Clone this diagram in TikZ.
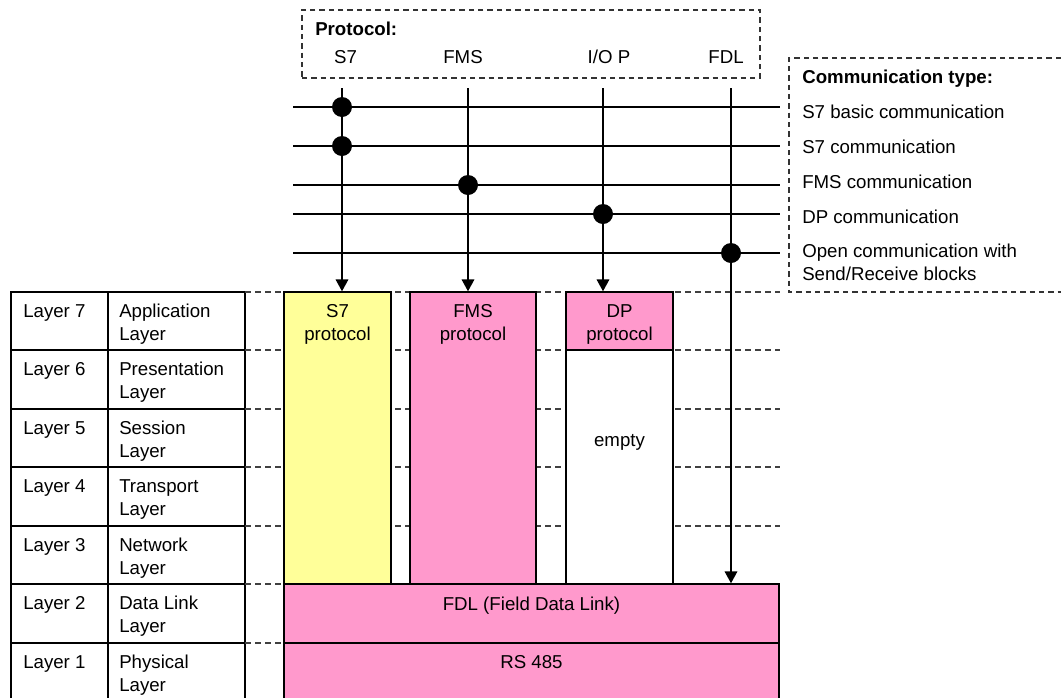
\documentclass[tikz,border=0pt]{standalone}
\usepackage{fontspec}
\setmainfont{Liberation Sans}
\usetikzlibrary{arrows.meta,fit}
\definecolor{pinkbox}{HTML}{FF99CC}
\definecolor{yellowbox}{HTML}{FFFF99}
\begin{document}
\begin{tikzpicture}[x=0.75pt,y=-0.75pt,
  txt/.style={font=\fontsize{14}{17.25}\selectfont, inner sep=0pt},
  bold/.style={font=\fontsize{14}{17.25}\selectfont\bfseries, inner sep=0pt},
  cell/.style={draw=black, line width=0.8pt, inner sep=0pt},
  pbox/.style={cell, fill=pinkbox},
  ybox/.style={cell, fill=yellowbox},
  wbox/.style={cell, fill=white},
  frame/.style={draw=black!80, line width=0.9pt, dash pattern=on 4pt off 3pt},
  sep/.style={draw=black!75, line width=0.8pt, dash pattern=on 4.5pt off 3pt},
  bus/.style={draw=black, line width=1pt},
  feed/.style={draw=black, line width=2.2pt},
  arr/.style={feed, -{Triangle[length=9pt,width=9pt]}},
  dot/.style={circle, fill=black, inner sep=0pt, minimum size=15pt}]
\useasboundingbox (0,0) rectangle (1061,697);

% ---- protocol frame
\node[frame, fit={(302,10)(760,78)}, inner sep=0pt] (protframe) {};
\node[bold, anchor=base west] (prottitle) at (315,35) {Protocol:};
\node[txt, anchor=base] (pS7) at (345.5,63) {S7};
\node[txt, anchor=base] (pFMS) at (463,63) {FMS};
\node[txt, anchor=base] (pIO) at (609,63) {I/O P};
\node[txt, anchor=base] (pFDL) at (726,63) {FDL};

% ---- communication type frame
\draw[frame] (1061,58) -- (789,58) -- (789,292) -- (1061,292);
\node[bold, anchor=base west] (ctitle) at (802,83) {Communication type:};
\node[txt, anchor=base west] (c1) at (802,118) {S7 basic communication};
\node[txt, anchor=base west] (c2) at (802,153) {S7 communication};
\node[txt, anchor=base west] (c3) at (802,188) {FMS communication};
\node[txt, anchor=base west] (c4) at (802,223) {DP communication};
\node[txt, anchor=base west] (c5a) at (802,257) {Open communication with};
\node[txt, anchor=base west] (c5b) at (802,280) {Send/Receive blocks};

% ---- layer table
\foreach \top/\bot/\num/\a/\b in {292/350/7/Application/Layer,
    350/409/6/Presentation/Layer, 409/467/5/Session/Layer,
    467/526/4/Transport/Layer, 526/584/3/Network/Layer,
    584/643/2/Data Link/Layer, 643/702/1/Physical/Layer}{
  \node[cell, fit={(11,\top)(108,\bot)}] (num\num) {};
  \node[cell, fit={(108,\top)(245,\bot)}] (name\num) {};
  \node[txt, anchor=base west] (numt\num) at (23,\top+25) {Layer \num};
  \node[txt, anchor=base west] (namea\num) at (119,\top+25) {\a};
  \node[txt, anchor=base west] (nameb\num) at (119,\top+48) {\b};
}

% ---- dashed layer separators
\foreach \y in {292,350,409,467,526,584,643}
  \draw[sep] (245,\y) -- (780,\y);

% ---- protocol boxes
\node[ybox, fit={(284,292)(391,584)}] (s7box) {};
\node[pbox, fit={(410,292)(536,584)}] (fmsbox) {};
\node[pbox, fit={(566,292)(673,350)}] (dpbox) {};
\node[wbox, fit={(566,350)(673,584)}] (emptybox) {};
\node[pbox, fit={(284,584)(779,643)}] (fdlbox) {};
\node[pbox, fit={(284,643)(779,702)}] (rsbox) {};

\node[txt, anchor=base] (s7a) at (337.5,317) {S7};
\node[txt, anchor=base] (s7b) at (337.5,340) {protocol};
\node[txt, anchor=base] (fmsa) at (473,317) {FMS};
\node[txt, anchor=base] (fmsb) at (473,340) {protocol};
\node[txt, anchor=base] (dpa) at (619.5,317) {DP};
\node[txt, anchor=base] (dpb) at (619.5,340) {protocol};
\node[txt, anchor=base] (emptyt) at (619.5,446) {empty};
\node[txt, anchor=base] (fdlt) at (531.5,610) {FDL (Field Data Link)};
\node[txt, anchor=base] (rst) at (531.5,668) {RS 485};

% ---- communication buses
\foreach \i/\y in {1/107,2/146,3/185,4/214,5/253}{
  \coordinate (b\i l) at (293,\y);
  \coordinate (b\i r) at (780,\y);
  \draw[bus] (b\i l) -- (b\i r);
}

% ---- vertical feeds
\coordinate (vS7) at (342,88);
\coordinate (vFMS) at (468,88);
\coordinate (vIO) at (603,88);
\coordinate (vFDL) at (731,88);
\draw[arr] (vS7) -- (vS7 |- s7box.north);
\draw[arr] (vFMS) -- (vFMS |- fmsbox.north);
\draw[arr] (vIO) -- (vIO |- dpbox.north);
\draw[arr] (vFDL) -- (vFDL |- fdlbox.north);

% ---- junction dots
\node[dot] (d1) at (vS7 |- b1l) {};
\node[dot] (d2) at (vS7 |- b2l) {};
\node[dot] (d3) at (vFMS |- b3l) {};
\node[dot] (d4) at (vIO |- b4l) {};
\node[dot] (d5) at (vFDL |- b5l) {};
\end{tikzpicture}
\end{document}
